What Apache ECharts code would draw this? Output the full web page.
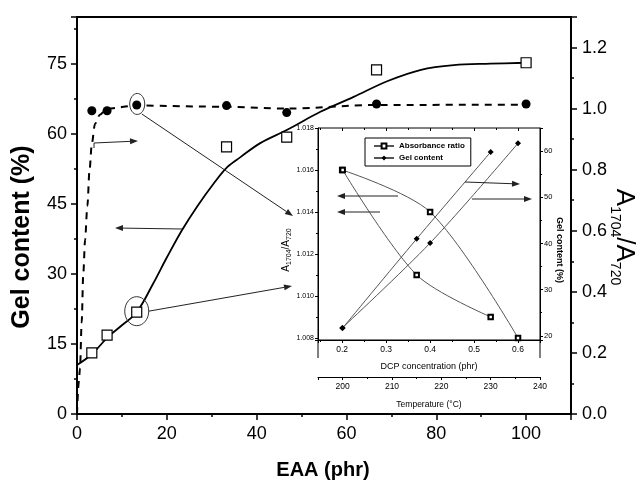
<!DOCTYPE html>
<html><head><meta charset="utf-8">
<script src="https://cdn.jsdelivr.net/npm/echarts@6/dist/echarts.min.js"></script>
<style>html,body{margin:0;padding:0;background:#fff}#c{width:640px;height:481px}</style>
</head><body><div id="c"></div>
<script>
// ---- main chart data (EAA phr) ----
const eaaPoints   = [3.3, 6.7, 13.3, 33.3, 46.7, 66.7, 100];
const gelContent  = [13.1, 16.9, 21.8, 57.2, 59.3, 73.7, 75.2];
const absRatio    = [0.993, 0.993, 1.012, 1.010, 0.987, 1.015, 1.015];
// fitted curves
const gelFitX = [0, 3.3, 6.7, 10, 13.3, 17, 20, 23.4, 26.8, 30.4, 33.5, 36.4, 40.8, 46.7, 54.2, 61.6, 69.2, 76.6, 83.9, 92, 100];
const gelFitY = [10.5, 12.8, 16.3, 19.0, 21.8, 28.0, 33.5, 39.4, 44.5, 49.3, 52.9, 55.0, 58.0, 60.8, 64.7, 67.9, 71.3, 73.7, 74.7, 75.0, 75.2];
const absFitX = [0, 0.37, 0.67, 1.04, 1.4, 1.8, 2.3, 2.8, 3.3, 4.0, 5.1, 6.7, 13.3, 33.3, 46.7, 66.7, 100];
const absFitY = [0, 0.10, 0.15, 0.30, 0.46, 0.57, 0.68, 0.80, 0.885, 0.95, 0.98, 1.0, 1.01, 1.006, 1.0, 1.012, 1.013];
// ---- inset data ----
const dcpConc    = [0.2, 0.4, 0.6];
const tempC      = [200, 215, 230];
const absVsDcp   = [1.016, 1.014, 1.008];
const absVsTemp  = [1.016, 1.011, 1.009];
const gelVsDcp   = [21.7, 40.1, 61.7];
const gelVsTemp  = [21.7, 41.0, 59.8];

const zip = (a, b) => a.map((v, i) => [v, b[i]]);
const FONT = '"Liberation Sans", Arial, sans-serif';
const BLACK = '#000';

const chart = echarts.init(document.getElementById('c'), null, {renderer: 'canvas'});

function mainAxis(o) {
  return Object.assign({
    type: 'value',
    axisLine: {show: true, onZero: false, lineStyle: {color: BLACK, width: 2}},
    axisTick: {show: true, length: 6, lineStyle: {color: BLACK, width: 1.5}},
    minorTick: {show: true, splitNumber: 2, length: 3, lineStyle: {color: BLACK, width: 1.5}},
    splitLine: {show: false},
    axisLabel: {fontSize: 18, color: BLACK, fontFamily: FONT}
  }, o);
}
function insetAxis(o) {
  return Object.assign({
    type: 'value', gridIndex: 1,
    axisLine: {show: true, onZero: false, lineStyle: {color: BLACK, width: 1}},
    axisTick: {show: true, length: 3, lineStyle: {color: BLACK, width: 1}},
    minorTick: {show: true, splitNumber: 2, length: 2, lineStyle: {color: BLACK, width: 1}},
    splitLine: {show: false},
    axisLabel: {fontSize: 8, color: BLACK, fontFamily: FONT, margin: 4}
  }, o);
}

const option = {
  animation: false,
  backgroundColor: '#fff',
  grid: [
    {left: 77, right: 69, top: 17, bottom: 67, show: true, borderColor: BLACK, borderWidth: 2},
    {left: 318, right: 100, top: 128, bottom: 141, show: true, borderColor: BLACK, borderWidth: 1, backgroundColor: '#fff'}
  ],
  legend: {
    data: ['Absorbance ratio', 'Gel content'],
    left: 365, top: 138, orient: 'vertical',
    itemWidth: 20, itemHeight: 6, itemGap: 4,
    padding: [4, 6, 4, 8],
    borderColor: BLACK, borderWidth: 1, backgroundColor: '#fff',
    selectedMode: false,
    textStyle: {fontSize: 8, fontWeight: 'bold', color: BLACK, fontFamily: FONT}
  },
  xAxis: [
    mainAxis({gridIndex: 0, min: 0, max: 110, interval: 20, position: 'bottom',
      axisLabel: {fontSize: 18, color: BLACK, fontFamily: FONT, margin: 11, showMaxLabel: false}}),
    insetAxis({min: 0.145, max: 0.65, position: 'bottom',
      axisLabel: {fontSize: 8.5, color: BLACK, fontFamily: FONT, margin: 5, showMinLabel: false, showMaxLabel: false,
        formatter: v => v.toFixed(1)}}),
    insetAxis({min: 195, max: 240, position: 'bottom', offset: 37,
      axisLabel: {fontSize: 8.5, color: BLACK, fontFamily: FONT, margin: 5, showMinLabel: false}}),
    insetAxis({min: 0.145, max: 0.65, position: 'top', axisLine: {show: false},
      axisTick: {show: true, inside: true, length: 3, lineStyle: {color: BLACK}},
      axisLabel: {show: false}})
  ],
  yAxis: [
    mainAxis({gridIndex: 0, min: 0, max: 85, interval: 15, position: 'left',
      axisLabel: {fontSize: 18, color: BLACK, fontFamily: FONT, margin: 10, showMaxLabel: false}}),
    mainAxis({gridIndex: 0, min: 0, max: 1.3, interval: 0.2, position: 'right',
      axisLabel: {fontSize: 18, color: BLACK, fontFamily: FONT, margin: 11, showMaxLabel: false,
        formatter: v => v.toFixed(1)}}),
    insetAxis({min: 1.0079, max: 1.018, position: 'left',
      axisLabel: {fontSize: 7, color: BLACK, fontFamily: FONT, margin: 4, showMinLabel: false,
        formatter: v => v.toFixed(3)}}),
    insetAxis({min: 19.1, max: 65, position: 'right',
      axisLabel: {fontSize: 7.5, color: BLACK, fontFamily: FONT, margin: 4, showMinLabel: false, showMaxLabel: false}})
  ],
  series: [
    {type: 'line', name: 'EAA gel fit', xAxisIndex: 0, yAxisIndex: 0, data: zip(gelFitX, gelFitY),
      smooth: 0.35, symbol: 'none', lineStyle: {color: BLACK, width: 1.8}, z: 2, silent: true},
    {type: 'line', name: 'EAA ratio fit', xAxisIndex: 0, yAxisIndex: 1, data: zip(absFitX, absFitY),
      smooth: 0.3, smoothMonotone: 'x', symbol: 'none', lineStyle: {color: BLACK, width: 2, type: [7, 6]}, z: 2, silent: true},
    {type: 'scatter', name: 'EAA gel', xAxisIndex: 0, yAxisIndex: 0, data: zip(eaaPoints, gelContent),
      symbol: 'rect', symbolSize: 10, itemStyle: {color: '#fff', borderColor: BLACK, borderWidth: 1.2, opacity: 1}, z: 4},
    {type: 'scatter', name: 'EAA ratio', xAxisIndex: 0, yAxisIndex: 1, data: zip(eaaPoints, absRatio),
      symbol: 'circle', symbolSize: 9, itemStyle: {color: BLACK, opacity: 1}, z: 4},
    {type: 'line', name: 'Absorbance ratio', xAxisIndex: 1, yAxisIndex: 2, data: zip(dcpConc, absVsDcp),
      smooth: 0.3, symbol: 'emptyRect', symbolSize: 4.5, lineStyle: {color: '#555', width: 1},
      itemStyle: {color: BLACK, borderWidth: 0.8}, z: 5},
    {type: 'line', name: 'Absorbance ratio', xAxisIndex: 2, yAxisIndex: 2, data: zip(tempC, absVsTemp),
      smooth: 0.3, symbol: 'emptyRect', symbolSize: 4.5, lineStyle: {color: '#555', width: 1},
      itemStyle: {color: BLACK, borderWidth: 0.8}, z: 5},
    {type: 'line', name: 'Gel content', xAxisIndex: 1, yAxisIndex: 3, data: zip(dcpConc, gelVsDcp),
      smooth: 0.3, symbol: 'diamond', symbolSize: 6, lineStyle: {color: '#555', width: 1},
      itemStyle: {color: BLACK}, z: 5},
    {type: 'line', name: 'Gel content', xAxisIndex: 2, yAxisIndex: 3, data: zip(tempC, gelVsTemp),
      smooth: 0.3, symbol: 'diamond', symbolSize: 6, lineStyle: {color: '#555', width: 1},
      itemStyle: {color: BLACK}, z: 5}
  ]
};
chart.setOption(option);

// ---- annotations ----
function arrow(x1, y1, x2, y2, color) {
  const a = Math.atan2(y2 - y1, x2 - x1), L = 8, W = 3;
  const bx = x2 - L * Math.cos(a), by = y2 - L * Math.sin(a);
  return [
    {type: 'line', shape: {x1, y1, x2: bx, y2: by}, style: {stroke: color, lineWidth: 1}, z: 10},
    {type: 'polygon', shape: {points: [[x2, y2], [bx + W * Math.sin(a), by - W * Math.cos(a)], [bx - W * Math.sin(a), by + W * Math.cos(a)]]},
      style: {fill: color}, z: 10}
  ];
}
const pUp = chart.convertToPixel({xAxisIndex: 0, yAxisIndex: 1}, [eaaPoints[2], absRatio[2]]);
const pLo = chart.convertToPixel({xAxisIndex: 0, yAxisIndex: 0}, [eaaPoints[2], gelContent[2]]);

const g = [];
g.push({type: 'ellipse', shape: {cx: pUp[0] + 0.5, cy: pUp[1] - 1, rx: 7.5, ry: 10.5}, style: {fill: 'none', stroke: '#333', lineWidth: 1}, z: 10});
g.push({type: 'ellipse', shape: {cx: pLo[0], cy: pLo[1] - 1, rx: 12, ry: 14.5}, style: {fill: 'none', stroke: '#333', lineWidth: 1}, z: 10});
g.push(...arrow(pUp[0] + 5, pUp[1] + 9, 293, 216, '#222'));
g.push(...arrow(pLo[0] + 12, pLo[1] - 1, 292, 286, '#222'));
g.push({type: 'line', shape: {x1: 94, y1: 143, x2: 94, y2: 148}, style: {stroke: '#222', lineWidth: 1}, z: 10});
g.push(...arrow(94, 143, 138, 141, '#222'));
g.push(...arrow(182, 229, 115, 228, '#222'));
// inset arrows
g.push(...arrow(398, 196, 337, 196, '#222'));
g.push(...arrow(380, 212, 337, 212, '#222'));
g.push(...arrow(465, 182, 520, 184, '#222'));
g.push(...arrow(472, 199, 532, 199, '#222'));
// inset axis extensions
g.push({type: 'line', shape: {x1: 318, y1: 340, x2: 318, y2: 358}, style: {stroke: BLACK, lineWidth: 1}});
g.push({type: 'line', shape: {x1: 540, y1: 340, x2: 540, y2: 358}, style: {stroke: BLACK, lineWidth: 1}});
// titles
g.push({type: 'text', x: 22, y: 237, rotation: Math.PI / 2,
  style: {text: 'Gel content (%)', font: 'bold 25px ' + FONT, fill: BLACK, align: 'center', verticalAlign: 'middle'}});
g.push({type: 'text', x: 323, y: 470,
  style: {text: 'EAA (phr)', font: 'bold 20px ' + FONT, fill: BLACK, align: 'center', verticalAlign: 'middle'}});
g.push({type: 'text', x: 624, y: 237, rotation: -Math.PI / 2,
  style: {text: '{a|A}{s|1704}{a|/A}{s|720}', fill: BLACK, align: 'center', verticalAlign: 'middle',
    rich: {a: {fontSize: 26, fontFamily: FONT, fill: BLACK}, s: {fontSize: 14, fontFamily: FONT, fill: BLACK, padding: [18, 0, 0, 0]}}}});
g.push({type: 'text', x: 286, y: 250, rotation: Math.PI / 2,
  style: {text: '{a|A}{s|1704}{a|/A}{s|720}', fill: BLACK, align: 'center', verticalAlign: 'middle',
    rich: {a: {fontSize: 10, fontFamily: FONT, fill: BLACK}, s: {fontSize: 7, fontFamily: FONT, fill: BLACK, padding: [7, 0, 0, 0]}}}});
g.push({type: 'text', x: 559, y: 250, rotation: -Math.PI / 2,
  style: {text: 'Gel content (%)', font: 'bold 9px ' + FONT, fill: BLACK, align: 'center', verticalAlign: 'middle'}});
g.push({type: 'text', x: 429, y: 367,
  style: {text: 'DCP concentration (phr)', font: '9px ' + FONT, fill: BLACK, align: 'center', verticalAlign: 'middle'}});
g.push({type: 'text', x: 429, y: 405,
  style: {text: 'Temperature (°C)', font: '8.5px ' + FONT, fill: BLACK, align: 'center', verticalAlign: 'middle'}});
chart.setOption({graphic: g});
</script></body></html>
